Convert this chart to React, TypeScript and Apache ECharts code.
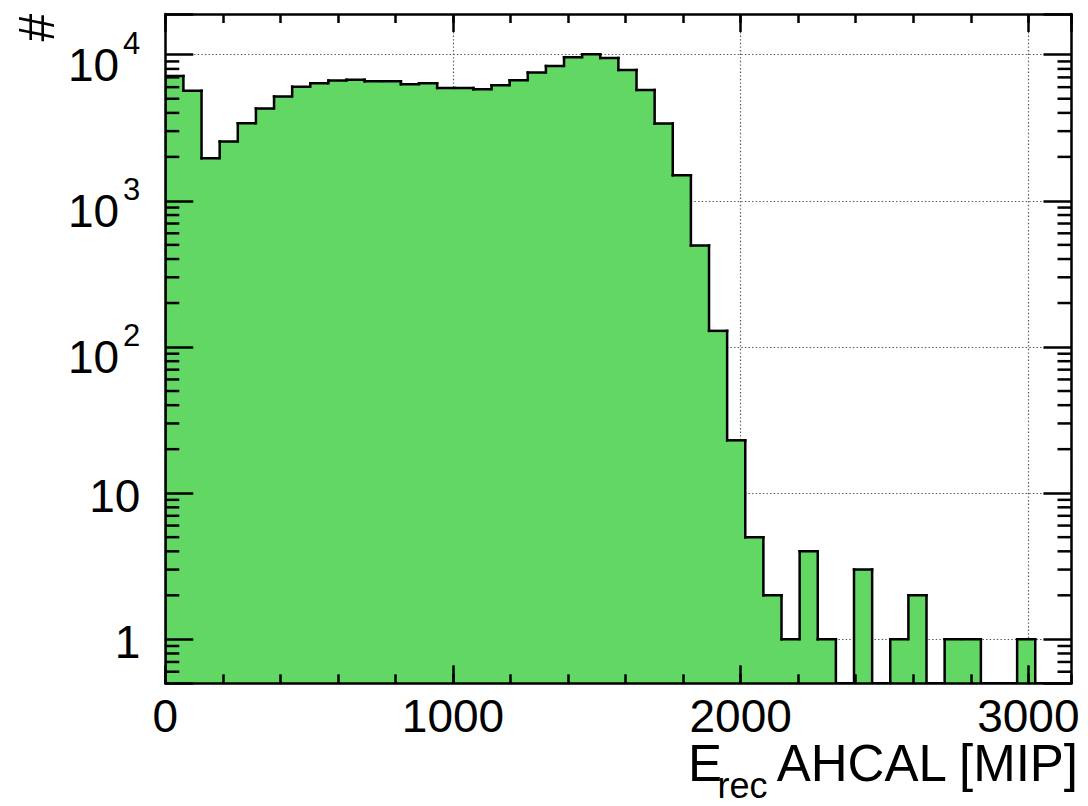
import React, { useEffect, useRef } from "react";
import * as echarts from "echarts";

// ---- data ----
const BIN_WIDTH = 63; // MIP per bin
const counts = [
  7160, 5660, 1960, 2545, 3400, 4280, 5170, 6050, 6385, 6655,
  6730, 6590, 6590, 6285, 6385, 5930, 5930, 5800, 6185, 6695,
  7550, 8380, 9610, 10070, 9510, 7870, 5745, 3380, 1500, 496,
  129, 23, 5, 2, 1, 4, 1, 0, 3, 0,
  1, 2, 0, 1, 1, 0, 0, 1, 0, 0,
];
const binLowEdges = counts.map((_, i) => i * BIN_WIDTH);
const xRange = [0, 3150];
const yRange = [0.5, 19000];
const xMajorStep = 1000;
const xMinorStep = 200;
const yMinorTicks = [
  0.6, 0.7, 0.8, 0.9,
  2, 3, 4, 5, 6, 7, 8, 9,
  20, 30, 40, 50, 60, 70, 80, 90,
  200, 300, 400, 500, 600, 700, 800, 900,
  2000, 3000, 4000, 5000, 6000, 7000, 8000, 9000,
];
const xTitleParts = ["E", "rec", "AHCAL [MIP]"];
const yTitle = "#";

// ---- style ----
const FONT = '"Liberation Sans", Arial, Helvetica, sans-serif';
const GREEN = "#62d764";
const LW = 2.5;
const BLACK = "#000";
const GRID_LINE = { color: "#555", width: 1.2, type: [1.4, 2.2] as any };

const histData = counts.map((c, i) => [
  binLowEdges[i],
  binLowEdges[i] + BIN_WIDTH,
  c,
  i > 0 ? counts[i - 1] : 0,
]);

function yLabel(v: number): string {
  const l = Math.log10(v);
  const p = Math.round(l);
  if (Math.abs(l - p) > 1e-6) return "";
  if (p === 0) return "1";
  if (p === 1) return "10";
  return "{b|10}{gap| }{sup|" + p + "}";
}

const hiddenAxisParts = {
  axisLine: { show: false },
  axisTick: { show: false },
  axisLabel: { show: false },
  splitLine: { show: false },
};

function buildOption(): any {
  const xBase = { type: "value", min: xRange[0], max: xRange[1] };
  const yBase = { type: "log", logBase: 10, min: yRange[0], max: yRange[1] };
  const titleStyle = {
    fontFamily: FONT,
    fill: BLACK,
    align: "left",
    verticalAlign: "middle",
    textAlign: "left",
    textVerticalAlign: "middle",
  };
  return {
    animation: false,
    backgroundColor: "#fff",
    grid: { left: 165.3, top: 14, right: 16.5, bottom: 122.7, containLabel: false },
    xAxis: [
      {
        ...xBase,
        ...hiddenAxisParts,
        interval: xMajorStep,
        position: "bottom",
        z: 10,
        axisLine: { show: true, onZero: false, lineStyle: { color: BLACK, width: LW } },
        axisTick: { show: true, inside: true, length: 18, lineStyle: { color: BLACK, width: LW } },
        axisLabel: {
          show: true,
          margin: 13,
          fontSize: 46,
          lineHeight: 40,
          fontFamily: FONT,
          color: BLACK,
          showMaxLabel: false,
          formatter: (v: number) => String(v),
        },
      },
      {
        ...xBase,
        ...hiddenAxisParts,
        interval: xMinorStep,
        position: "bottom",
        z: 10,
        axisTick: { show: true, inside: true, length: 9, lineStyle: { color: BLACK, width: LW } },
      },
      {
        ...xBase,
        ...hiddenAxisParts,
        interval: xMajorStep,
        position: "top",
        z: 10,
        axisLine: { show: true, onZero: false, lineStyle: { color: BLACK, width: LW } },
        axisTick: { show: true, inside: true, length: 18, lineStyle: { color: BLACK, width: LW } },
      },
      {
        ...xBase,
        ...hiddenAxisParts,
        interval: xMinorStep,
        position: "top",
        z: 10,
        axisTick: { show: true, inside: true, length: 9, lineStyle: { color: BLACK, width: LW } },
      },
      {
        ...xBase,
        ...hiddenAxisParts,
        interval: xMajorStep,
        position: "bottom",
        z: 0,
        splitLine: { show: true, lineStyle: GRID_LINE },
      },
    ],
    yAxis: [
      {
        ...yBase,
        ...hiddenAxisParts,
        position: "left",
        z: 10,
        axisLine: { show: true, onZero: false, lineStyle: { color: BLACK, width: LW } },
        axisTick: { show: true, inside: true, length: 28, lineStyle: { color: BLACK, width: LW } },
        axisLabel: {
          show: true,
          margin: 25,
          fontSize: 46,
          fontFamily: FONT,
          color: BLACK,
          padding: [6, 0, 0, 0],
          formatter: yLabel,
          rich: {
            b: {
              fontSize: 46,
              fontFamily: FONT,
              color: BLACK,
              lineHeight: 60,
              verticalAlign: "bottom",
            },
            gap: {
              fontSize: 14,
              fontFamily: FONT,
              lineHeight: 14,
              verticalAlign: "top",
            },
            sup: {
              fontSize: 31,
              fontFamily: FONT,
              color: BLACK,
              lineHeight: 31,
              verticalAlign: "top",
            },
          },
        },
      },
      {
        ...yBase,
        ...hiddenAxisParts,
        position: "right",
        z: 10,
        axisLine: { show: true, onZero: false, lineStyle: { color: BLACK, width: LW } },
        axisTick: { show: true, inside: true, length: 28, lineStyle: { color: BLACK, width: LW } },
      },
      {
        ...yBase,
        ...hiddenAxisParts,
        position: "left",
        z: 0,
        splitLine: { show: true, lineStyle: GRID_LINE },
      },
    ],
    series: [
      {
        type: "custom",
        name: "histogram",
        xAxisIndex: 0,
        yAxisIndex: 0,
        z: 2,
        clip: true,
        encode: { x: [0, 1], y: 2 },
        data: histData,
        renderItem: (params: any, api: any) => {
          const cs = params.coordSys;
          const bottom = cs.y + cs.height;
          const x0 = api.value(0);
          const x1 = api.value(1);
          const c = api.value(2);
          const p = api.value(3);
          const yOf = (v: number) => (v > 0 ? api.coord([x0, v])[1] : bottom);
          const left = api.coord([x0, 1])[0];
          const right = api.coord([x1, 1])[0];
          const yTop = yOf(c);
          const yPrev = yOf(p);
          const stroke = { stroke: BLACK, lineWidth: LW, lineCap: "square" };
          const children: any[] = [];
          if (c > 0) {
            children.push({
              type: "rect",
              shape: { x: left - 0.4, y: yTop, width: right - left + 0.8, height: bottom - yTop },
              style: { fill: GREEN },
            });
          }
          children.push({ type: "line", shape: { x1: left, y1: yTop, x2: right, y2: yTop }, style: stroke });
          children.push({ type: "line", shape: { x1: left, y1: yPrev, x2: left, y2: yTop }, style: stroke });
          return { type: "group", children };
        },
      },
      {
        type: "custom",
        name: "yMinorTicks",
        xAxisIndex: 0,
        yAxisIndex: 0,
        z: 10,
        encode: { x: 0, y: 1 },
        data: yMinorTicks.map((v) => [0, v]),
        renderItem: (params: any, api: any) => {
          const cs = params.coordSys;
          const y = api.coord([0, api.value(1)])[1];
          const st = { stroke: BLACK, lineWidth: LW };
          return {
            type: "group",
            children: [
              { type: "line", shape: { x1: cs.x, y1: y, x2: cs.x + 14, y2: y }, style: st },
              { type: "line", shape: { x1: cs.x + cs.width - 14, y1: y, x2: cs.x + cs.width, y2: y }, style: st },
            ],
          };
        },
      },
    ],
    graphic: [
      {
        type: "text",
        x: 36.7,
        y: 27.5,
        rotation: Math.PI / 2,
        style: {
          text: yTitle,
          fontSize: 50,
          fontFamily: FONT,
          fill: BLACK,
          align: "center",
          verticalAlign: "middle",
          textAlign: "center",
          textVerticalAlign: "middle",
        },
      },
      {
        type: "text",
        x: 688,
        y: 763,
        style: { ...titleStyle, text: xTitleParts[0], fontSize: 51, lineHeight: 40 },
      },
      {
        type: "text",
        x: 717.6,
        y: 785,
        style: { ...titleStyle, text: xTitleParts[1], fontSize: 36, lineHeight: 28 },
      },
      {
        type: "text",
        x: 776.7,
        y: 763,
        style: { ...titleStyle, text: xTitleParts[2], fontSize: 51, lineHeight: 40 },
      },
    ],
  };
}

export default function App() {
  const ref = useRef<HTMLDivElement>(null);
  useEffect(() => {
    if (!ref.current) return;
    const chart = echarts.init(ref.current, null, { renderer: "svg" });
    chart.setOption(buildOption());
    return () => chart.dispose();
  }, []);
  return (
    <div
      ref={ref}
      style={{ position: "fixed", left: 0, top: 0, width: 1088, height: 806, background: "#fff" }}
    />
  );
}
